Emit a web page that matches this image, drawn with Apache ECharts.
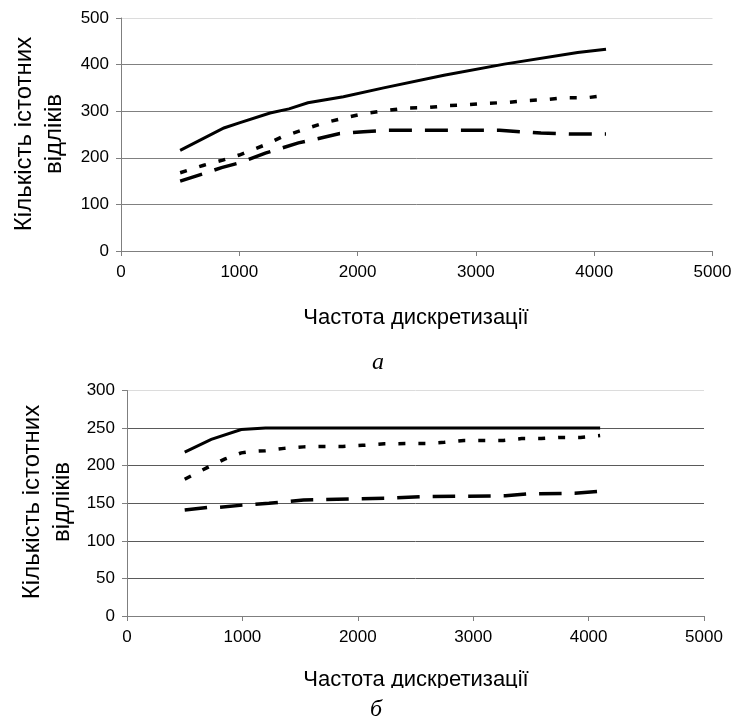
<!DOCTYPE html>
<html>
<head>
<meta charset="utf-8">
<script src="https://cdn.jsdelivr.net/npm/echarts@6/dist/echarts.min.js"></script>
<style>html,body{margin:0;padding:0;background:#fff}#c{width:735px;height:723px}</style>
</head>
<body>
<div id="c"></div>
<script>
// ---- Chart (a) ----
const aSolidX = [500, 870, 1000, 1260, 1420, 1580, 1880, 2220, 2730, 3240, 3860, 4100];
const aSolidY = [216, 264, 275, 296, 305, 318, 331, 350, 377, 401, 426, 433];
const aDotX = [500, 700, 860, 1000, 1080, 1220, 1360, 1560, 1720, 1880, 2040, 2260, 2420, 2600, 2760, 2940, 3100, 3280, 3440, 3600, 3760, 3940, 4100];
const aDotY = [168, 184, 195, 206, 214, 228, 245, 262, 275, 285, 294, 302, 307, 308, 312, 314, 317, 319, 323, 325, 329, 329, 334];
const aDashX = [500, 700, 850, 1000, 1220, 1500, 1680, 1850, 2050, 2250, 3200, 3550, 3800, 4100];
const aDashY = [150, 166, 179, 189, 210, 232, 242, 252, 256, 259, 259, 253, 251, 251];
// ---- Chart (б) ----
const bSolidX = [500, 730, 990, 1200, 4100];
const bSolidY = [218, 235, 248, 250, 250];
const bDotX = [500, 690, 850, 990, 1080, 1200, 1360, 1530, 1700, 1870, 2040, 2230, 2420, 2590, 2750, 2920, 3090, 3260, 3420, 3590, 3750, 3930, 4100];
const bDotY = [182, 197, 209, 217, 219, 220, 223, 225, 225.5, 225.5, 227, 229, 229.5, 229.5, 231, 233.5, 233.5, 233.5, 236, 236, 237.5, 237.5, 240];
const bDashX = [500, 700, 800, 1000, 1230, 1530, 1820, 2250, 2560, 3280, 3470, 3880, 4100];
const bDashY = [141, 144.5, 144.7, 147.5, 150, 154.4, 155.3, 156.6, 158.8, 160, 162.4, 163.3, 166];

const xTicks = [0, 1000, 2000, 3000, 4000, 5000];
const yTicksA = [0, 100, 200, 300, 400, 500];
const yTicksB = [0, 50, 100, 150, 200, 250, 300];
const yTitle1 = 'Кількість істотних';
const yTitle2 = 'відліків';
const xTitle = 'Частота дискретизації';
const capA = 'а';
const capB = 'б';

const pairs = (xs, ys) => xs.map((x, i) => [x, ys[i]]);
const FONT = 'Liberation Sans, Arial, sans-serif';
const SERIF = 'Liberation Serif, Times New Roman, serif';

function xAx(gi) {
  return {
    type: 'value', gridIndex: gi, min: xTicks[0], max: xTicks[xTicks.length - 1], interval: 1000,
    axisLine: {show: true, lineStyle: {color: '#7f7f7f', width: 1}},
    axisTick: {show: true, inside: false, length: 5, lineStyle: {color: '#7f7f7f'}},
    axisLabel: {color: '#000', fontSize: 17, fontFamily: FONT, margin: 13, formatter: v => String(v)},
    splitLine: {show: false}
  };
}
function yAx(gi, ticks, interval, gridColor) {
  const cols = ticks.map((t, i) => i === ticks.length - 1 ? '#dcdcdc' : gridColor);
  return {
    type: 'value', gridIndex: gi, min: ticks[0], max: ticks[ticks.length - 1], interval: interval,
    axisLine: {show: true, lineStyle: {color: '#7f7f7f', width: 1}},
    axisTick: {show: true, inside: false, length: 5, lineStyle: {color: '#7f7f7f'}},
    axisLabel: {color: '#000', fontSize: 17, fontFamily: FONT, margin: 12, formatter: v => String(v)},
    splitLine: {show: true, lineStyle: {color: cols, width: 1}}
  };
}
function ser(gi, data, type, width) {
  return {
    type: 'line', xAxisIndex: gi, yAxisIndex: gi, data: data, showSymbol: false, symbol: 'none',
    animation: false, silent: true,
    lineStyle: {color: '#000', width: width, type: type, cap: 'butt', join: 'miter'}
  };
}
function txt(x, y, text, size, rot, family, italic, z) {
  const o = {type: 'text', x: x, y: y, z: z || 10,
    style: {text: text, fontSize: size, fontFamily: family || FONT, fontStyle: italic ? 'italic' : 'normal', fill: '#000', align: 'center', verticalAlign: 'middle'}};
  if (rot) o.rotation = rot;
  return o;
}

const chart = echarts.init(document.getElementById('c'), null, {renderer: 'canvas'});
chart.setOption({
  backgroundColor: '#fff',
  animation: false,
  grid: [
    {left: 121, right: 22.5, top: 18, height: 233},
    {left: 127, right: 31, top: 390.5, height: 225.5}
  ],
  xAxis: [xAx(0), xAx(1)],
  yAxis: [yAx(0, yTicksA, 100, '#808080'), yAx(1, yTicksB, 50, '#5a5a5a')],
  series: [
    ser(0, pairs(aSolidX, aSolidY), 'solid', 3),
    ser(0, pairs(aDotX, aDotY), [7, 13], 3.5),
    ser(0, pairs(aDashX, aDashY), [23, 13], 3.5),
    ser(1, pairs(bSolidX, bSolidY), 'solid', 3),
    ser(1, pairs(bDotX, bDotY), [7, 13], 3.5),
    ser(1, pairs(bDashX, bDashY), [22.5, 13], 3.5)
  ],
  graphic: [
    txt(24, 134, yTitle1, 24, Math.PI / 2),
    txt(54, 134, yTitle2, 24, Math.PI / 2),
    txt(416, 318, xTitle, 22),
    txt(378, 363, capA, 24, 0, SERIF, true),
    txt(32, 502, yTitle1, 24, Math.PI / 2),
    txt(62, 502, yTitle2, 24, Math.PI / 2),
    txt(416, 680, xTitle, 22),
    {type: 'rect', shape: {x: 270, y: 688, width: 290, height: 8}, style: {fill: '#fff'}, z: 100},
    txt(376, 710, capB, 24, 0, SERIF, true, 101)
  ]
});
</script>
</body>
</html>
